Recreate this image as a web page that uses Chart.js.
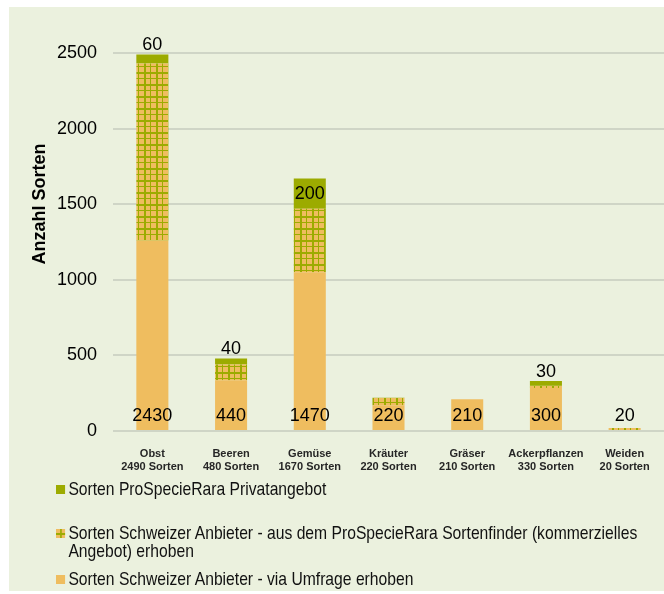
<!DOCTYPE html>
<html>
<head>
<meta charset="utf-8">
<script src="https://cdn.jsdelivr.net/npm/chart.js@4.4.1/dist/chart.umd.min.js"></script>
<style>
body { margin: 0; background: #fff; }
#wrap { position: relative; width: 664px; height: 594px; overflow: hidden; }
#panel { position: absolute; left: 9px; top: 7px; width: 655px; height: 584px; background: #ebf1de; }
#c { position: absolute; left: 0; top: 0; }
#legend { position: absolute; left: 56px; top: 480px; width: 736px;
	transform: scaleX(0.825); transform-origin: 0 0;
	font-family: "Liberation Sans", Arial, sans-serif;
	font-size: 19px; line-height: 18px; color: #111; }
.item { display: flex; align-items: flex-start; }
.item:nth-child(1) { margin-bottom: 26px; }
.item:nth-child(2) { margin-bottom: 10px; }
.sw { width: 11px; height: 9px; flex: none; margin: 5px 4px 0 0; }
</style>
</head>
<body>
<div id="wrap">
	<div id="panel"></div>
	<canvas id="c" width="664" height="594"></canvas>
	<div id="legend"></div>
</div>
<script>
// Daten
const categoryNames = ['Obst', 'Beeren', 'Gemüse', 'Kräuter', 'Gräser', 'Ackerpflanzen', 'Weiden'];
const totalSorten = [2490, 480, 1670, 220, 210, 330, 20];
const umfrage = [1260, 335, 1050, 170, 210, 285, 0];
const sortenfinder = [1170, 105, 420, 50, 0, 15, 20];
const privat = [60, 40, 200, 0, 0, 30, 0];
const yTicks = [0, 500, 1000, 1500, 2000, 2500];
const seriesNames = [
	'Sorten Schweizer Anbieter - via Umfrage erhoben',
	'Sorten Schweizer Anbieter - aus dem ProSpecieRara Sortenfinder (kommerzielles Angebot) erhoben',
	'Sorten ProSpecieRara Privatangebot'
];

const ORANGE = '#efbd5f';
const GREEN = '#9cab00';
const FONT = '"Liberation Sans", Arial, sans-serif';

let ctx = document.getElementById('c').getContext('2d');

// Gittermuster fuer die Sortenfinder-Serie
function gridPattern() {
	let p = document.createElement('canvas');
	p.width = 12; p.height = 12;
	let g = p.getContext('2d');
	g.fillStyle = ORANGE;
	g.fillRect(0, 0, 12, 12);
	g.fillStyle = GREEN;
	g.fillRect(0, 0, 12, 2);
	g.fillRect(0, 6, 12, 1);
	g.fillRect(0, 0, 2, 12);
	g.fillRect(6, 0, 1, 12);
	return ctx.createPattern(p, 'repeat');
}

let labelPlugin = {
	id: 'wertLabels',
	afterDatasetsDraw(chart) {
		let c = chart.ctx;
		let y0 = chart.scales.y.getPixelForValue(0);
		let bottomMeta = chart.getDatasetMeta(0);
		let topMeta = chart.getDatasetMeta(2);
		c.save();
		c.font = '18px ' + FONT;
		c.fillStyle = '#000';
		c.textAlign = 'center';
		c.textBaseline = 'middle';
		categoryNames.forEach((n, i) => {
			let x = bottomMeta.data[i].x;
			let schweiz = umfrage[i] + sortenfinder[i];
			if (schweiz > 0) c.fillText(String(schweiz), x, y0 - 15);
			if (privat[i] > 0) {
				let bar = topMeta.data[i];
				let h = bar.base - bar.y;
				c.fillText(String(privat[i]), x, h > 24 ? bar.y + h / 2 : bar.y - 9);
			}
		});
		c.restore();
	}
};

let yTitlePlugin = {
	id: 'yTitel',
	afterDraw(chart) {
		let c = chart.ctx;
		c.save();
		c.translate(40, chart.chartArea.top + 151);
		c.rotate(-Math.PI / 2);
		c.font = 'bold 18px ' + FONT;
		c.fillStyle = '#000';
		c.textAlign = 'center';
		c.textBaseline = 'middle';
		c.fillText('Anzahl Sorten', 0, 0);
		c.restore();
	}
};

let chart = new Chart(ctx, {
	type: 'bar',
	data: {
		labels: categoryNames.map((n, i) => [n, totalSorten[i] + ' Sorten']),
		datasets: [{
			label: seriesNames[0],
			data: umfrage,
			backgroundColor: ORANGE
		}, {
			label: seriesNames[1],
			data: sortenfinder,
			backgroundColor: gridPattern()
		}, {
			label: seriesNames[2],
			data: privat,
			backgroundColor: GREEN
		}]
	},
	options: {
		responsive: false,
		animation: false,
		devicePixelRatio: 1,
		layout: { padding: { top: 53, right: 0, bottom: 0, left: 0 } },
		datasets: { bar: { barPercentage: 0.407, categoryPercentage: 1 } },
		plugins: {
			legend: { display: false },
			tooltip: { enabled: false }
		},
		scales: {
			x: {
				stacked: true,
				grid: { display: false },
				border: { display: false },
				ticks: {
					padding: 9,
					maxRotation: 0,
					autoSkip: false,
					color: '#262626',
					font: { family: FONT, size: 11, weight: 'bold', lineHeight: 1.12 }
				},
				afterFit(s) { s.height = 163; }
			},
			y: {
				stacked: true,
				min: 0,
				max: 2500,
				grid: { color: '#cfd5c6', lineWidth: 2, drawTicks: false },
				border: { display: false },
				ticks: {
					padding: 16,
					color: '#000',
					font: { family: FONT, size: 18 },
					callback: v => String(v)
				},
				afterBuildTicks(s) { s.ticks = yTicks.map(v => ({ value: v })); },
				afterFit(s) { s.width = 113; }
			}
		}
	},
	plugins: [labelPlugin, yTitlePlugin]
});

// Legende (umgekehrte Reihenfolge wie in der Vorlage)
let legend = document.getElementById('legend');
chart.data.datasets.slice().reverse().forEach((ds, k) => {
	let item = document.createElement('div');
	item.className = 'item';
	let sw = document.createElement('span');
	sw.className = 'sw';
	if (k === 1) {
		sw.style.background = 'linear-gradient(' + GREEN + ',' + GREEN + ') center/100% 2px no-repeat, linear-gradient(' + GREEN + ',' + GREEN + ') center/2px 100% no-repeat, ' + ORANGE;
	} else {
		sw.style.background = ds.backgroundColor;
	}
	let txt = document.createElement('span');
	txt.textContent = ds.label;
	item.appendChild(sw);
	item.appendChild(txt);
	legend.appendChild(item);
});
</script>
</body>
</html>
